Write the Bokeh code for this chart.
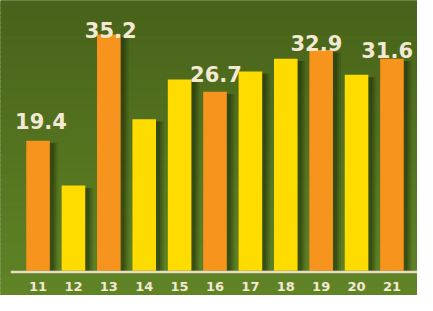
from bokeh.plotting import figure
from bokeh.models import Range1d, ColumnDataSource
from bokeh.core.properties import value
from bokeh.embed import file_html
from bokeh.resources import INLINE
import numpy as np

# ---- data ----
days = ["11", "12", "13", "14", "15", "16", "17", "18", "19", "20", "21"]
values = [19.4, 12.7, 35.2, 22.6, 28.5, 26.7, 29.7, 31.6, 32.9, 29.2, 31.6]
highlighted = ["11", "13", "16", "19", "21"]

# ---- style ----
ORANGE = "#f7941d"
YELLOW = "#ffdc00"
LABEL = "#f3e9d3"
BG_TOP = (72, 99, 26)
BG_BOTTOM = (97, 132, 39)
W, H = 417, 295
PX_X = 35.39          # px per category slot
PX_Y = 6.71           # px per unit
X0 = -1.061
Y_END = 270.3 / PX_Y
Y_START = -(H - 270.3) / PX_Y
FONT = value("DejaVu Sans")
# label fine-tuning (px): vertical gap above bar, horizontal shift
label_gap = {"11": 21, "13": 5, "16": 19, "19": 7, "21": 9}
label_dx = {"11": 3, "13": 2, "16": 1, "19": -5, "21": -5}

x_end = X0 + W / PX_X
p = figure(width=W, height=H, output_backend="svg", toolbar_location=None,
           x_range=Range1d(X0, x_end), y_range=Range1d(Y_START, Y_END),
           min_border=0, outline_line_color=None,
           background_fill_color="#55761f", border_fill_color="#55761f")
p.axis.visible = False
p.grid.visible = False

# background gradient
n = 60
edges = np.linspace(Y_START, Y_END, n + 1)
cols = []
for i in range(n):
    t = 1 - (i + 0.5) / n
    c = tuple(int(BG_TOP[k] * (1 - t) + BG_BOTTOM[k] * t) for k in range(3))
    cols.append("#%02x%02x%02x" % c)
p.quad(left=X0, right=x_end, bottom=edges[:-1], top=edges[1:],
       fill_color=cols, line_color=cols, line_width=1.5)

xs = np.arange(len(days))
colors = [ORANGE if d in highlighted else YELLOW for d in days]
vals = np.array(values)

# drop shadows
for off, a in [(8, 0.15), (6, 0.22), (4, 0.3)]:
    p.vbar(x=xs + off / PX_X, top=vals - 0.35, bottom=0, width=0.667,
           fill_color="#1c2806", fill_alpha=a, line_color=None)

src = ColumnDataSource(dict(x=xs, top=vals, color=colors))
p.vbar(x="x", top="top", bottom=0, width=0.667, fill_color="color",
       line_color=None, source=src)

# baseline
p.segment(x0=xs[0] - 0.77, x1=x_end, y0=-0.18, y1=-0.18,
          line_color="#e6dcc2", line_width=2.5)

# category labels
p.text(x=xs, y=-2.41, text=days, text_align="center", text_baseline="middle",
       text_color=LABEL, text_font=FONT, text_font_style="bold",
       text_font_size="13px")

# value labels
for d in highlighted:
    i = days.index(d)
    p.text(x=[xs[i]], y=[values[i]], text=["%.1f" % values[i]],
           x_offset=label_dx[d] * 0.963, y_offset=-label_gap[d] * 0.95,
           text_align="center", text_baseline="alphabetic",
           text_color=LABEL, text_font=FONT, text_font_style="bold",
           text_font_size="21px")

open("out.html", "w").write(file_html(p, INLINE))
